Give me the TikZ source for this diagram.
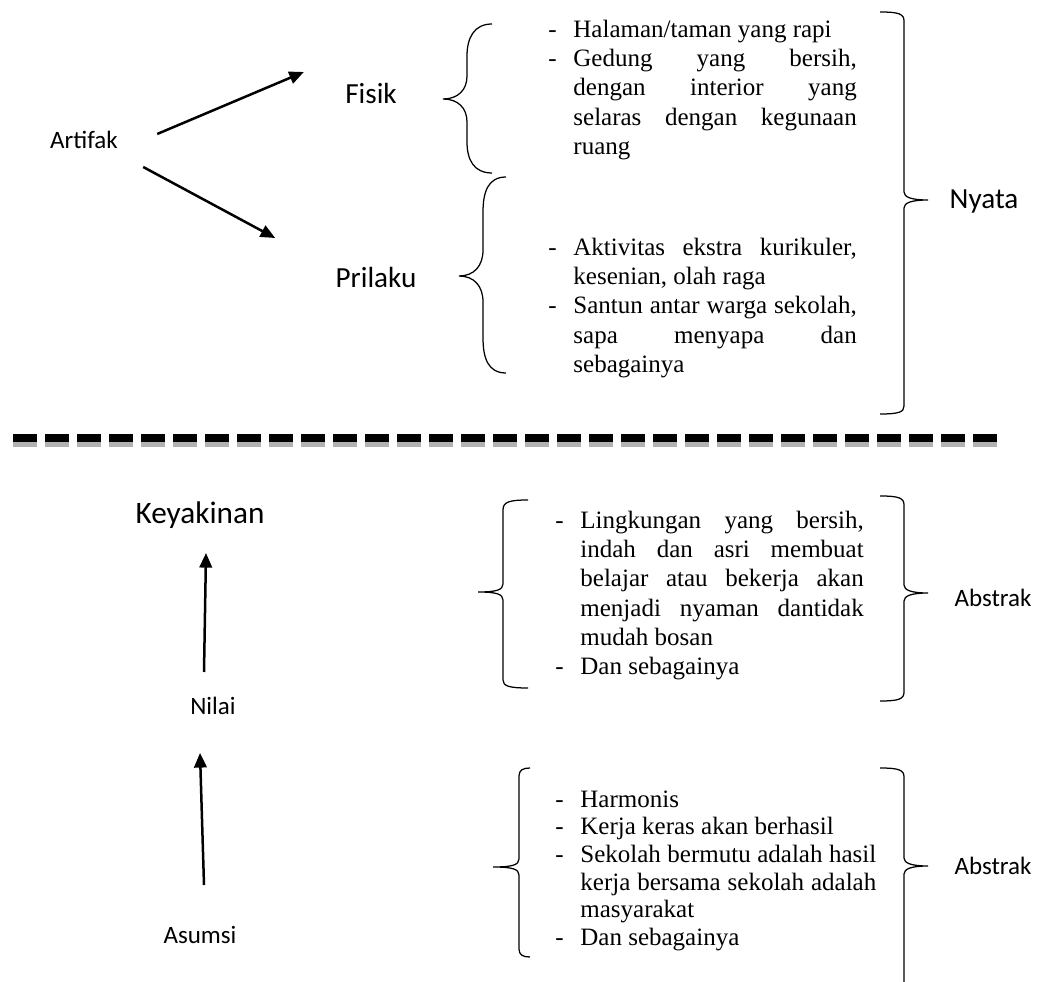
\documentclass[tikz,border=0pt]{standalone}
\usepackage{fontspec}
\setmainfont{Liberation Serif}
\newfontfamily\calibri{Carlito}
\usetikzlibrary{arrows.meta}
\tolerance=10000
\hyphenpenalty=10000
%% one item of a list: a dash, then the text hanging under it
\newcommand\butir[1]{\par\hangindent=12pt\hangafter=1\noindent\makebox[12pt][l]{\strut-}#1\par}
\tikzset{
  labelkecil/.style={font=\calibri\fontsize{12}{14}\selectfont, inner sep=0pt},
  labelbesar/.style={font=\calibri\fontsize{14}{16}\selectfont, inner sep=0pt},
  labeljudul/.style={font=\calibri\fontsize{15}{18}\selectfont, inner sep=0pt},
  isian/.style={anchor=north west, inner sep=0pt, text width=148pt, align=justify, font=\fontsize{12}{14}\selectfont},
  panah/.style={-{Triangle[length=7pt,width=6pt]}, line width=1.2pt},
  kurung/.style={line width=0.6pt}
}
\begin{document}
\begin{tikzpicture}[x=0.48pt,y=-0.48pt]
        %% the page is as large as the picture, one unit is one pixel
        \useasboundingbox (0,0) rectangle (1044,982);
        %% upper part: the artifacts
        \node[labelkecil] (artifak) at (84,140) {Artifak};
        \node[labelbesar] (fisik) at (371,93) {Fisik};
        \node[labelbesar] (prilaku) at (376,277) {Prilaku};
        \draw[panah] ([shift={(39,-6)}]artifak.east) -- ([shift={(-41,-21)}]fisik.west);
        \draw[panah] ([shift={(25,27)}]artifak.east) -- ([shift={(-60,-39)}]prilaku.west);
        %% curly braces in front of the two lists
        \draw[kurung] (492,24) .. controls (474,24) and (467,38) .. (467,56) -- (467,76) .. controls (467,90) and (458,99) .. (443,99) .. controls (458,99) and (467,108) .. (467,122) -- (467,142) .. controls (467,160) and (474,173) .. (492,173);
        \draw[kurung] (506,177) .. controls (488,177) and (483,192) .. (483,212) -- (483,250) .. controls (483,266) and (474,276) .. (459,276) .. controls (474,276) and (483,286) .. (483,302) -- (483,338) .. controls (483,358) and (488,373) .. (506,373);
        \node[isian] (txtfisik) at (548,8) {\butir{Halaman/taman yang rapi}\butir{Gedung yang bersih,\linebreak dengan interior yang\linebreak selaras dengan kegunaan\linebreak ruang}};
        \node[isian] (txtprilaku) at (548,226) {\butir{Aktivitas ekstra kurikuler,\linebreak kesenian, olah raga}\butir{Santun antar warga sekolah,\linebreak sapa menyapa dan\linebreak sebagainya}};
        %% big brace on the right
        \draw[kurung] (880,12) .. controls (899,12) and (904,14) .. (904,21) -- (904,192) .. controls (904,197) and (911,200) .. (928,200) .. controls (911,200) and (904,203) .. (904,208) -- (904,406) .. controls (904,412) and (899,414) .. (880,414);
        \node[labelbesar] (nyata) at (984,201) {Nyata};
        %% the dashed border with its grey shadow
        \foreach \i in {0,...,30} {
          \fill[gray!60] (13+32*\i,441) rectangle ++(24,6);
          \fill[black] (13+32*\i,434) rectangle ++(24,8);
        }
        %% lower part: belief, values and assumptions
        \node[labeljudul] (keyakinan) at (200,515) {Keyakinan};
        \node[labelkecil] (nilai) at (213,706) {Nilai};
        \node[labelkecil] (asumsi) at (200,935) {Asumsi};
        \draw[panah] ([shift={(-9,-34)}]nilai.center) -- ([shift={(6,38)}]keyakinan.center);
        \draw[panah] ([shift={(4,-50)}]asumsi.center) -- ([shift={(-13,47)}]nilai.center);
        \draw[kurung] (528,500) .. controls (509,500) and (503,502) .. (503,510) -- (503,584) .. controls (503,590) and (496,592) .. (478,592) .. controls (496,592) and (503,594) .. (503,600) -- (503,680) .. controls (503,686) and (509,688) .. (528,688);
        \draw[kurung] (530,768) .. controls (523,768) and (519,770) .. (519,776) -- (519,859) .. controls (519,865) and (512,867) .. (493,867) .. controls (512,867) and (519,869) .. (519,875) -- (519,949) .. controls (519,955) and (523,957) .. (530,957);
        \node[isian] (txtkeyakinan) at (555,499) {\butir{Lingkungan yang bersih,\linebreak indah dan asri membuat\linebreak belajar atau bekerja akan\linebreak menjadi nyaman dantidak\linebreak mudah bosan}\butir{Dan sebagainya}};
        \node[isian, text width=154pt, font=\fontsize{12}{13.3}\selectfont] (txtasumsi) at (555,779) {\butir{Harmonis}\butir{Kerja keras akan berhasil}\butir{Sekolah bermutu adalah hasil\linebreak kerja bersama sekolah adalah\linebreak masyarakat}\butir{Dan sebagainya}};
        \draw[kurung] (880,496) .. controls (899,496) and (904,498) .. (904,505) -- (904,585) .. controls (904,590) and (911,593) .. (928,593) .. controls (911,593) and (904,596) .. (904,601) -- (904,692) .. controls (904,699) and (899,701) .. (880,701);
        \draw[kurung] (880,768) .. controls (899,768) and (904,770) .. (904,777) -- (904,858) .. controls (904,863) and (911,866) .. (928,866) .. controls (911,866) and (904,869) .. (904,874) -- (904,982);
        \node[labelkecil] (abstraksatu) at (993,598) {Abstrak};
        \node[labelkecil] (abstrakdua) at (993,866) {Abstrak};
    \end{tikzpicture}
\end{document}
